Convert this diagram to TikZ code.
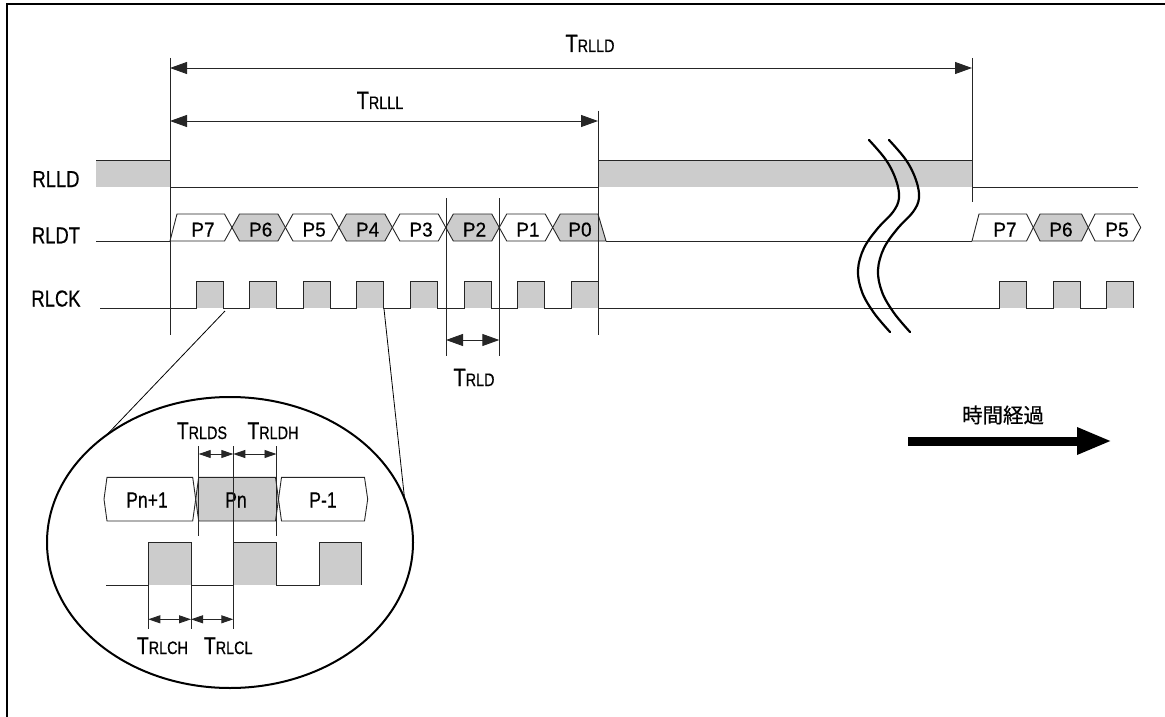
\documentclass[tikz,border=0pt]{standalone}
\usepackage{fontspec}
\setmainfont{Liberation Sans}[FakeStretch=0.8,FakeBold=0.5]
\newfontfamily\datfont{Liberation Sans}[FakeStretch=0.95,FakeBold=0.5]
\newfontfamily\jpfont{Noto Sans CJK JP}[FakeBold=0.6]
\usetikzlibrary{arrows.meta,shapes.geometric}
\definecolor{sg}{HTML}{CCCCCC}
\newcommand\tlab[1]{{\fontsize{25}{25}\selectfont T}{\fontsize{18}{18}\selectfont #1}}
\newcommand\tlabs[1]{{\fontsize{24}{24}\selectfont T}{\fontsize{18}{18}\selectfont #1}}
\begin{document}
\begin{tikzpicture}[x=1pt,y=-1pt,
  wire/.style={line width=0.9pt, draw=black!85},
  dimarrow/.style={line width=0.9pt, draw=black!85, {Triangle[length=17pt,width=12pt]}-{Triangle[length=17pt,width=12pt]}},
  sdimarrow/.style={line width=0.9pt, draw=black!85, {Triangle[length=12pt,width=8pt]}-{Triangle[length=12pt,width=8pt]}},
  siglab/.style={font=\fontsize{23}{23}\selectfont, anchor=base, inner sep=0},
  datlab/.style={font=\datfont\fontsize{20}{20}\selectfont, anchor=base, inner sep=0},
  maglab/.style={font=\fontsize{22}{22}\selectfont, anchor=base, inner sep=0},
  timlab/.style={anchor=base, inner sep=0},
  brk/.style={line width=2.2pt, line cap=round},
]
\useasboundingbox (0,0) rectangle (1165,717);
% frame
\draw[line width=1.5pt] (7,717) -- (7,4) -- (1165,4);

% ---------- RLLD ----------
\fill[sg] (96,160) rectangle (170,187);
\fill[sg] (598,160) rectangle (972,187);
\draw[wire] (96,160) -- (170,160);
\draw[wire] (598,160) -- (972,160);
\draw[wire] (170,187) -- (598,187);
\draw[wire] (972,187) -- (1138,187);

% ---------- RLDT ----------
\draw[wire] (96,241) -- (170,241);
\filldraw[wire, fill=white] (170,241) -- (177,214) -- (224.5,214) -- (232,227.5) -- (224.5,241) -- cycle;
\node[datlab] (d7) at (203,236.5) {P7};
\foreach \i/\lab/\col in {0/6/sg,1/5/white,2/4/sg,3/3/white,4/2/sg,5/1/white} {
  \pgfmathsetmacro\a{232+53.45*\i}
  \pgfmathsetmacro\b{232+53.45*(\i+1)}
  \filldraw[wire, fill=\col] (\a,227.5) -- (\a+7.5,214) -- (\b-7.5,214) -- (\b,227.5) -- (\b-7.5,241) -- (\a+7.5,241) -- cycle;
  \node[datlab] (d\lab) at ({(\a+\b)/2+2},236.5) {P\lab};
}
\filldraw[wire, fill=sg] (552.7,227.5) -- (560.2,214) -- (598,214) -- (606,241) -- (560.2,241) -- cycle;
\node[datlab] (d0) at (580,236.5) {P0};
\draw[wire] (606,241) -- (972,241);
\filldraw[wire, fill=white] (972,241) -- (979,214) -- (1026.5,214) -- (1033.3,227.5) -- (1026.5,241) -- cycle;
\node[datlab] (e7) at (1005,236.5) {P7};
\filldraw[wire, fill=sg] (1033.3,227.5) -- (1040,214) -- (1081.5,214) -- (1088.3,227.5) -- (1081.5,241) -- (1040,241) -- cycle;
\node[datlab] (e6) at (1061,236.5) {P6};
\filldraw[wire, fill=white] (1088.3,227.5) -- (1095,214) -- (1133.3,214) -- (1140.7,227.5) -- (1133.3,241) -- (1095,241) -- cycle;
\node[datlab] (e5) at (1117,236.5) {P5};

% ---------- RLCK ----------
\foreach \k in {0,...,7} {
  \pgfmathsetmacro\r{196.3+53.53*\k}
  \fill[sg] (\r,281) rectangle (\r+27,308);
}
\foreach \r in {999.3,1053.3,1106.7} { \fill[sg] (\r,281) rectangle (\r+27,308); }
\draw[wire] (100,308)
  \foreach \k in {0,...,7} { -- ({196.3+53.53*\k},308) -- ++(0,-27) -- ++(27,0) -- ++(0,27) }
  \foreach \r in {999.3,1053.3,1106.7} { -- (\r,308) -- ++(0,-27) -- ++(27,0) -- ++(0,27) };

% ---------- signal names ----------
\node[siglab] (nrlld) at (56,187) {RLLD};
\node[siglab] (nrldt) at (56,243.3) {RLDT};
\node[siglab] (nrlck) at (56,306.5) {RLCK};

% ---------- marker lines ----------
\draw[wire] (170,58) -- (170,335);
\draw[wire] (598,110.5) -- (598,335);
\draw[wire] (972,58) -- (972,202);
\draw[wire] (446,198) -- (446,356);
\draw[wire] (499.3,198) -- (499.3,356);

% ---------- dimension arrows ----------
\coordinate (a1) at (170,68);  \coordinate (a2) at (972,68);
\coordinate (b1) at (170,121); \coordinate (b2) at (598,121);
\coordinate (c1) at (446,340); \coordinate (c2) at (499.3,340);
\draw[dimarrow] (a1) -- (a2);
\draw[dimarrow] (b1) -- (b2);
\draw[dimarrow] (c1) -- (c2);
\node[timlab] (ttrlld) at (590,52) {\tlab{RLLD}};
\node[timlab] (ttrlll) at (380,109) {\tlab{RLLL}};
\node[timlab] (ttrld) at (474,386) {\tlab{RLD}};

% ---------- break marks ----------
\draw[brk] plot[smooth, tension=0.6] coordinates {(869,140) (886,160) (896,180) (899,198) (893,212) (878,228) (864,248) (858,270) (862,292) (874,313) (890,332)};
\draw[brk] plot[smooth, tension=0.6] coordinates {(889,140) (906,160) (916,180) (919,198) (913,212) (898,228) (884,248) (878,270) (882,292) (894,313) (910,332)};

% ---------- magnifier ----------
\node[ellipse, draw, line width=2pt, minimum width=366pt, minimum height=291pt, inner sep=0, outer sep=0] (mag) at (230,542.5) {};
\coordinate (z1) at (225,311);
\coordinate (z2) at (384,309);
\draw[line width=0.8pt] (z1) -- (mag.139.3);
\draw[line width=0.8pt] (z2) -- (mag.14.1);

% magnified data
\filldraw[wire, fill=white] (104,499.2) -- (107,477.3) -- (192.7,477.3) -- (195.7,499.2) -- (192.7,521) -- (107,521) -- cycle;
\filldraw[wire, fill=sg] (195.7,499.2) -- (198.7,477.3) -- (275.5,477.3) -- (278.5,499.2) -- (275.5,521) -- (198.7,521) -- cycle;
\filldraw[wire, fill=white] (278.5,499.2) -- (281.5,477.3) -- (364.5,477.3) -- (367.7,499.2) -- (364.5,521) -- (281.5,521) -- cycle;
\node[maglab] (mpn1) at (147,507.5) {Pn+1};
\node[maglab] (mpn) at (236,507.5) {Pn};
\node[maglab] (mpm1) at (323,507.5) {P-1};

% magnified clock
\fill[sg] (148.3,542.3) rectangle (191,585);
\fill[sg] (233.3,542.3) rectangle (276.5,585);
\fill[sg] (319.3,542.3) rectangle (361.7,585);
\draw[wire] (106,585) -- (148.3,585) -- (148.3,542.3) -- (191,542.3) -- (191,585) -- (233.3,585) -- (233.3,542.3) -- (276.5,542.3) -- (276.5,585) -- (319.3,585) -- (319.3,542.3) -- (361.7,542.3) -- (361.7,585);

% magnified markers
\draw[wire] (198.7,446) -- (198.7,536);
\draw[wire] (233.3,446) -- (233.3,629.3);
\draw[wire] (276.5,446) -- (276.5,536);
\draw[wire] (148.3,585) -- (148.3,629.3);
\draw[wire] (191,585) -- (191,629.3);
\coordinate (m1) at (198.7,454); \coordinate (m2) at (233.3,454); \coordinate (m3) at (276.5,454);
\coordinate (n1) at (148.3,619.3); \coordinate (n2) at (191,619.3); \coordinate (n3) at (233.3,619.3);
\draw[sdimarrow] (m1) -- (m2);
\draw[sdimarrow] (m2) -- (m3);
\draw[sdimarrow] (n1) -- (n2);
\draw[sdimarrow] (n2) -- (n3);
\node[timlab] (ttrlds) at (202,439) {\tlabs{RLDS}};
\node[timlab] (ttrldh) at (273,439) {\tlabs{RLDH}};
\node[timlab] (ttrlch) at (162.5,654) {\tlabs{RLCH}};
\node[timlab] (ttrlcl) at (228.3,654) {\tlabs{RLCL}};

% ---------- time arrow ----------
\coordinate (t1) at (908,441);
\coordinate (t2) at (1112,441);
\draw[line width=9pt, -{Triangle[length=35pt,width=25pt]}] (t1) -- (t2);
\node[font=\jpfont\fontsize{20.5}{20.5}\selectfont, inner sep=0] (ttime) at (1003,415) {時間経過};
\end{tikzpicture}
\end{document}
